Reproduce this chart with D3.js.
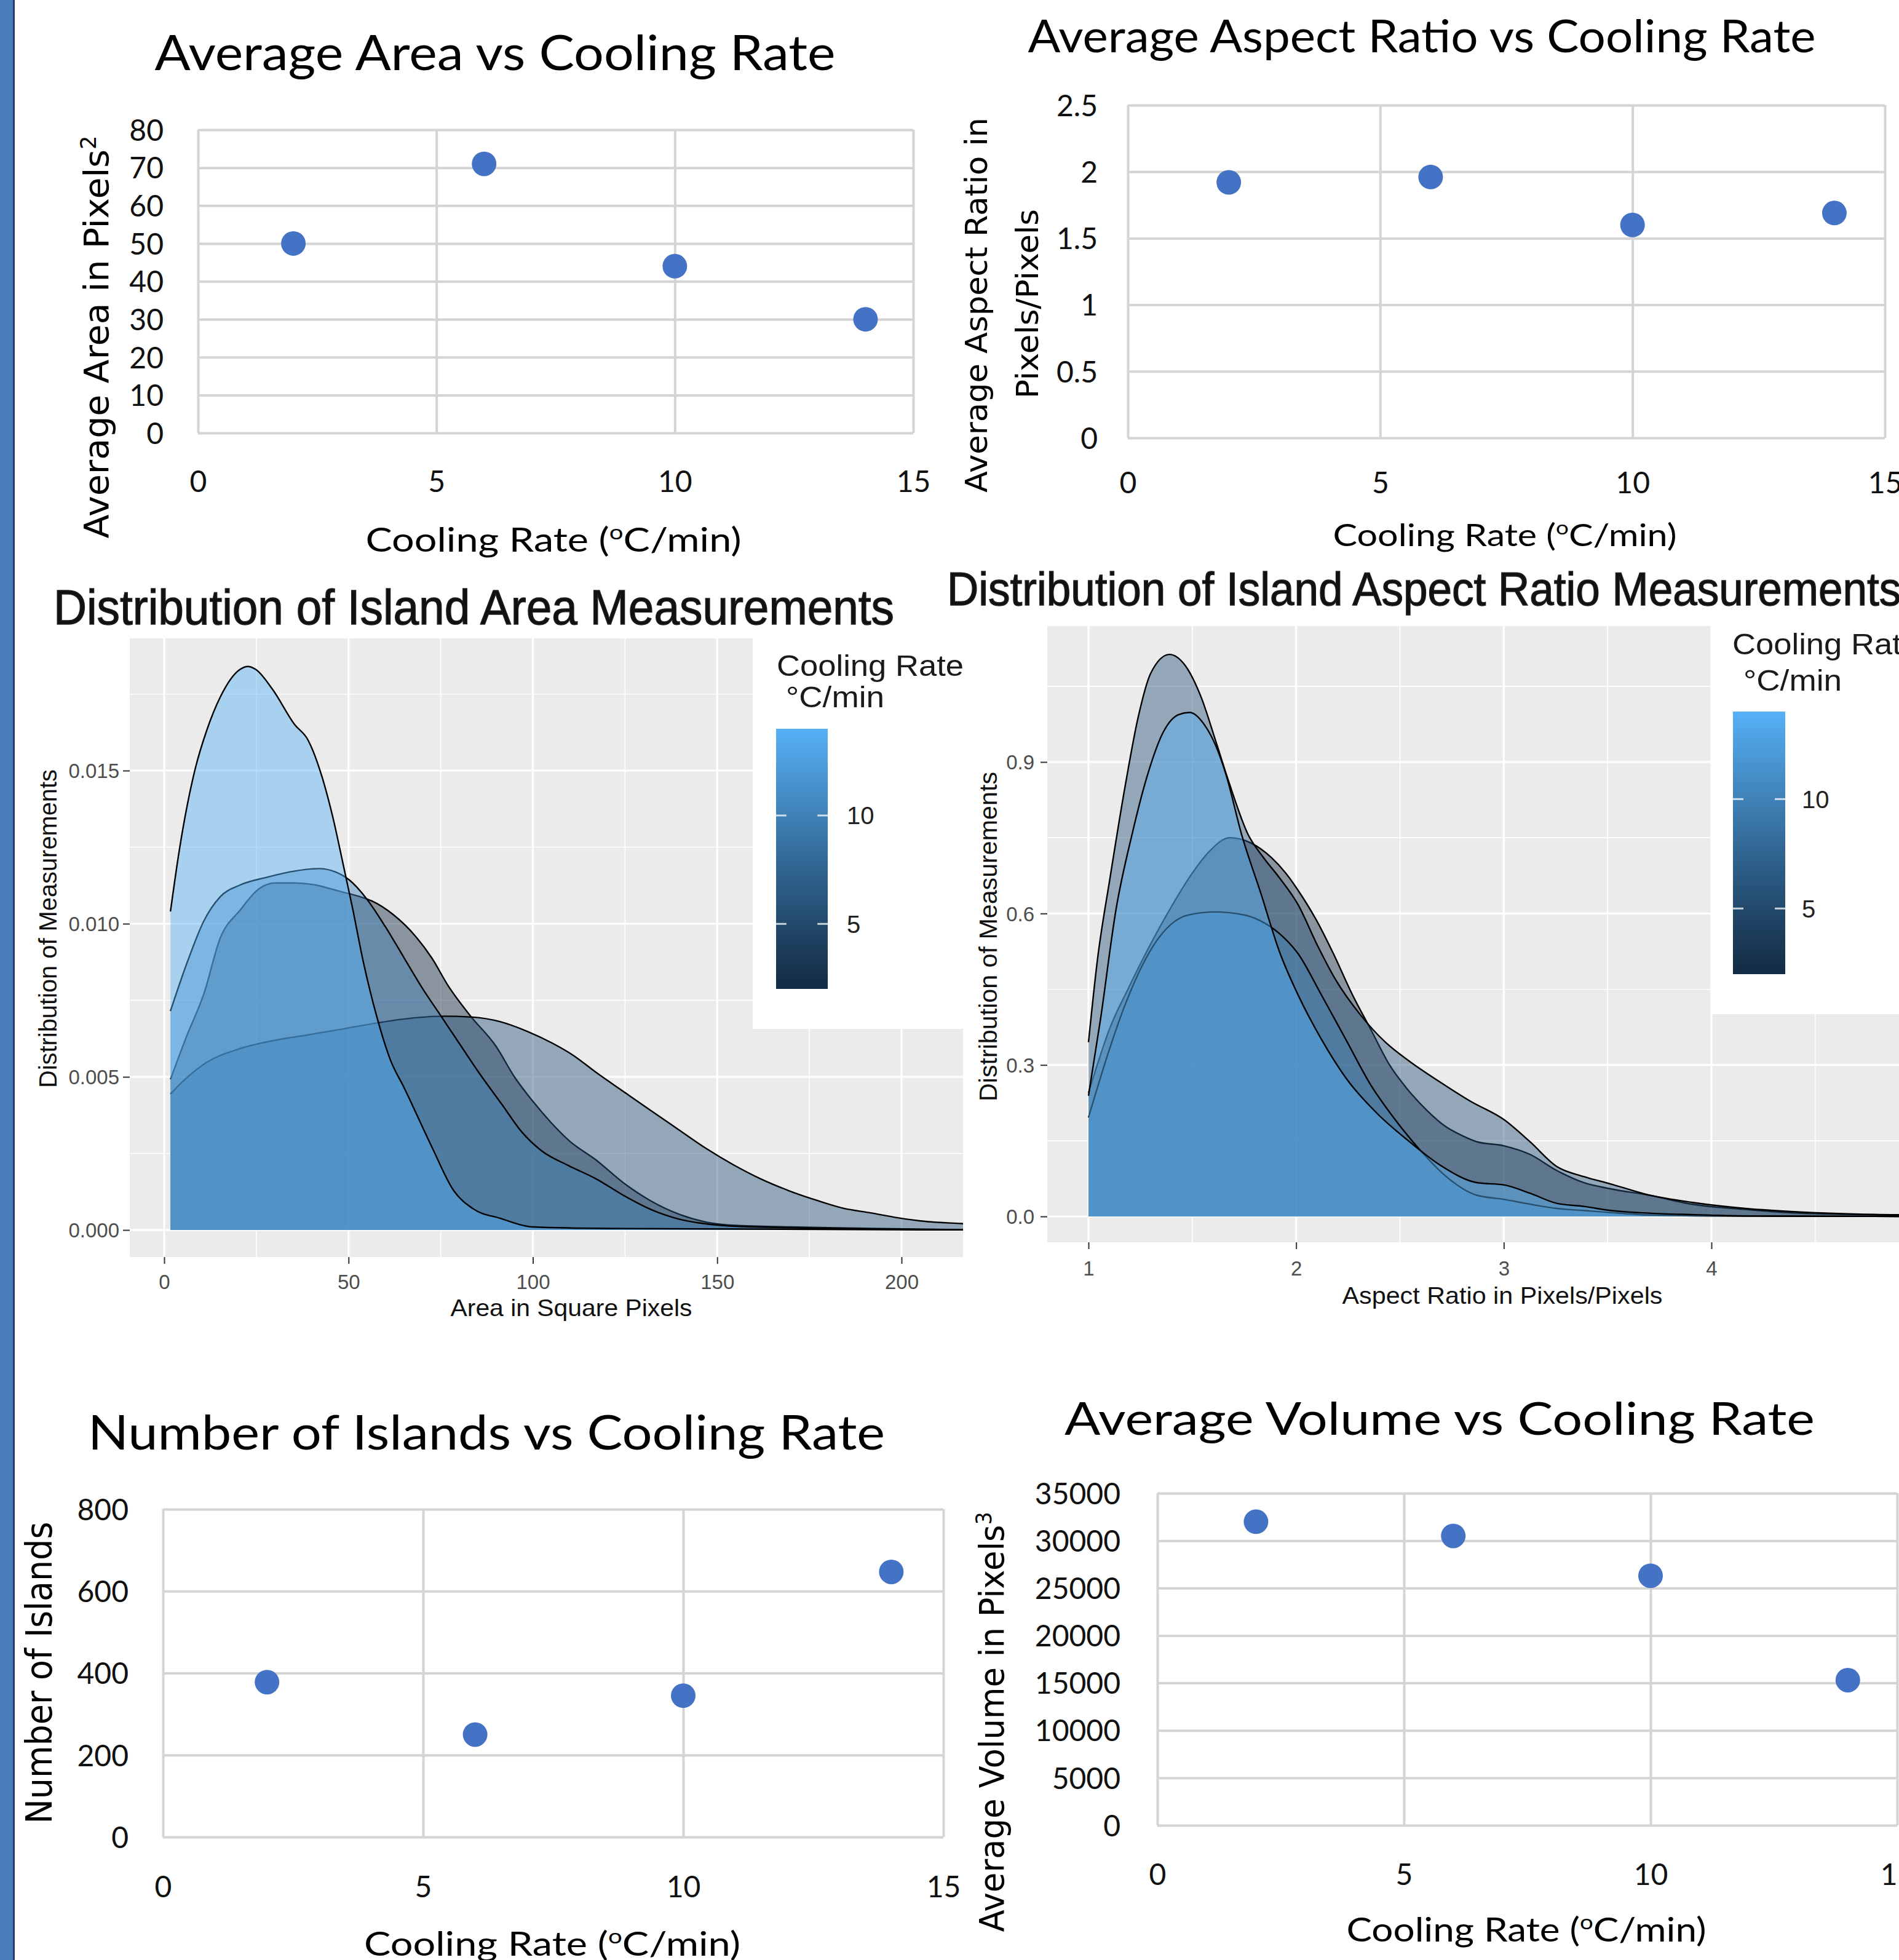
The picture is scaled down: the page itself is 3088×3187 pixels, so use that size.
<!DOCTYPE html>
<html>
<head>
<meta charset="utf-8">
<script src="https://cdn.jsdelivr.net/npm/d3@7"></script>
<style>
  body { margin: 0; background: #fff; }
</style>
</head>
<body>
<svg id="chart"></svg>
<script>
// ---- data ----
const coolingRates = [2, 6, 10, 14];
const avgArea = [50, 71, 44, 30];
const avgAspect = [1.92, 1.96, 1.60, 1.69];
const islandCount = [378, 250, 345, 647];
const avgVolume = [32000, 30500, 26300, 15300];

// tick labels
const coolingTicks = [0, 5, 10, 15];
const areaTicks = [0, 10, 20, 30, 40, 50, 60, 70, 80];
const aspectTicks = [0, 0.5, 1, 1.5, 2, 2.5];
const islandTicks = [0, 200, 400, 600, 800];
const volumeTicks = [0, 5000, 10000, 15000, 20000, 25000, 30000, 35000];
const areaDensTicks = [0, 0.005, 0.010, 0.015];
const areaXTicks = [0, 50, 100, 150, 200];
const arDensTicks = [0, 0.3, 0.6, 0.9];
const arXTicks = [1, 2, 3, 4, 5];
const legendTicks = [5, 10];

// density curves, [area, density], one per cooling rate
const areaDens2 = [[1.7,0.00492],[6,0.0063],[10.8,0.00773],[15.2,0.00953],[20.5,0.01043],[25.7,0.01114],[30.1,0.01133],[35.4,0.01133],[41.3,0.01126],[47.2,0.01107],[53.2,0.01088],[56.2,0.01075],[62.1,0.0103],[68.1,0.0096],[72.6,0.00888],[77,0.00798],[83,0.0070],[90,0.0060],[95,0.0050],[100,0.0042],[105,0.0035],[110,0.0029],[117,0.0023],[125,0.0015],[132,0.00095],[140,0.0005],[147,0.00026],[155,0.00015],[170,0.0001],[230,0]];
const areaDens6 = [[1.7,0.00444],[5.5,0.0049],[11.5,0.00547],[20.5,0.00592],[29.4,0.00618],[39,0.00637],[48.7,0.00657],[57.7,0.00676],[68.1,0.00693],[76.3,0.00698],[83.7,0.00695],[91.2,0.0068],[98.6,0.00648],[105.3,0.0061],[111,0.0057],[117.1,0.00515],[124.6,0.00452],[132,0.0039],[139.5,0.00328],[146.9,0.00267],[154.4,0.00213],[161.8,0.00167],[169.3,0.00129],[176.7,0.00098],[184.2,0.00071],[191.6,0.00056],[199,0.0004],[206.5,0.00028],[216.2,0.00021],[230,0.00012]];
const areaDens10 = [[1.7,0.00715],[6.3,0.00876],[10.8,0.0101],[15.2,0.01088],[20.5,0.01126],[27.9,0.01152],[35.4,0.01172],[42,0.0118],[46.5,0.01169],[50.2,0.01143],[55,0.0108],[60,0.0099],[65,0.0089],[70,0.0079],[75,0.0070],[80,0.0061],[85,0.0052],[91.6,0.0041],[97,0.0032],[102.2,0.0026],[109.7,0.0021],[117,0.00168],[124.6,0.00113],[132,0.00067],[139.5,0.00036],[147,0.0002],[160,0.0001],[230,0]];
const areaDens14 = [[1.7,0.0104],[4.1,0.0124],[6.3,0.0139],[8.5,0.0151],[11.5,0.0163],[15.2,0.0174],[20.5,0.0183],[22.7,0.0184],[24.9,0.0183],[29.4,0.01765],[35.4,0.0165],[39,0.0160],[42.8,0.0148],[45.7,0.0135],[48.7,0.01185],[51,0.01056],[54,0.00876],[57.7,0.00695],[61.4,0.00554],[65.1,0.00464],[72.6,0.00271],[78.5,0.00129],[83.7,0.0007],[91.2,0.00038],[100,0.0001],[120,0.00005],[230,0]];

// density curves, [aspect ratio, density], one per cooling rate
const arDens2 = [[1.0,0.245],[1.05,0.31],[1.1,0.37],[1.19,0.45],[1.3,0.54],[1.4,0.614],[1.5,0.68],[1.58,0.722],[1.68,0.75],[1.78,0.74],[1.88,0.711],[1.95,0.68],[2.03,0.633],[2.1,0.585],[2.18,0.52],[2.27,0.44],[2.36,0.37],[2.45,0.30],[2.54,0.25],[2.63,0.21],[2.72,0.178],[2.8,0.16],[2.87,0.148],[3.0,0.14],[3.126,0.123],[3.255,0.091],[3.385,0.067],[3.514,0.0548],[3.7,0.042],[3.905,0.0244],[4.165,0.0138],[4.424,0.0065],[5.0,0.002]];
const arDens6 = [[1.0,0.345],[1.043,0.508],[1.104,0.671],[1.179,0.858],[1.24,0.99],[1.30,1.076],[1.39,1.113],[1.466,1.091],[1.542,1.029],[1.617,0.936],[1.678,0.858],[1.768,0.757],[1.844,0.71],[1.919,0.671],[2.01,0.617],[2.1,0.539],[2.19,0.469],[2.31,0.399],[2.43,0.345],[2.55,0.306],[2.69,0.267],[2.84,0.228],[3.0,0.192],[3.126,0.148],[3.255,0.099],[3.385,0.079],[3.514,0.0645],[3.7,0.0424],[3.905,0.028],[4.165,0.0158],[4.424,0.0089],[4.684,0.0049],[5.0,0.003]];
const arDens10 = [[1.0,0.196],[1.1,0.33],[1.18,0.423],[1.33,0.547],[1.48,0.597],[1.61,0.603],[1.75,0.597],[1.83,0.585],[1.92,0.56],[2.01,0.52],[2.12,0.44],[2.24,0.35],[2.36,0.26],[2.48,0.19],[2.6,0.13],[2.72,0.08],[2.87,0.042],[3.0,0.034],[3.126,0.0243],[3.255,0.0158],[3.385,0.0118],[3.514,0.0077],[3.7,0.003],[4.0,0.001],[5.0,0]];
const arDens14 = [[1.0,0.239],[1.058,0.391],[1.133,0.609],[1.21,0.757],[1.284,0.874],[1.36,0.959],[1.435,0.994],[1.488,0.998],[1.556,0.975],[1.625,0.92],[1.663,0.874],[1.737,0.757],[1.83,0.64],[1.92,0.524],[2.01,0.438],[2.12,0.352],[2.24,0.274],[2.39,0.204],[2.54,0.15],[2.7,0.1],[2.87,0.067],[3.0,0.0625],[3.126,0.046],[3.255,0.026],[3.385,0.02],[3.514,0.0118],[3.7,0.0065],[3.9,0.0037],[4.2,0.001],[5.0,0]];

// ---- setup ----
const width = 3088;
const height = 3187;

const excelFont = "Lato, 'Open Sans', sans-serif";
const wideFont = "'DejaVu Sans', Verdana, sans-serif";
const ggFont = "'Liberation Sans', Arial, sans-serif";
const gridGrey = "#d4d4d4";
const markerBlue = "#4472C4";

const svg = d3.select("#chart")
    .attr("width", width)
    .attr("height", height)
    .attr("viewBox", [0, 0, width, height]);
const defs = svg.append("defs");

svg.append("rect").attr("width", width).attr("height", height).attr("fill", "#fff");

// blue strip on the left edge
svg.append("rect").attr("x", 0).attr("y", 0).attr("width", 21).attr("height", height).attr("fill", "#4A7EBB");
svg.append("rect").attr("x", 21).attr("y", 0).attr("width", 3).attr("height", height).attr("fill", "#24406a");

// colour of a cooling rate, like ggplot's default continuous fill
const rateColor = r => d3.interpolateLab("#132B43", "#56B1F7")((r - 2) / 12);

// text helper; parts allow superscripts
function addText(parent, o) {
    const t = parent.append("text")
        .attr("transform", `translate(${o.x},${o.y})` + (o.rotate ? " rotate(-90)" : ""))
        .attr("text-anchor", o.anchor || "middle")
        .attr("font-family", o.family)
        .attr("font-size", o.size)
        .attr("fill", o.color || "#000");
    const parts = o.parts || [{ t: o.text }];
    parts.forEach(p => {
        const s = t.append("tspan").text(p.t);
        if (p.sup) s.attr("baseline-shift", "super").attr("font-size", "62%");
    });
    if (o.len) t.attr("textLength", o.len).attr("lengthAdjust", "spacingAndGlyphs");
    return t;
}

const coolingTitle = [{ t: "Cooling Rate (" }, { t: "o", sup: true }, { t: "C/min)" }];

// ---- Excel style scatter panels ----
function excelScatter(o) {
    const g = svg.append("g");
    const x = d3.scaleLinear().domain([0, 15]).range([o.left, o.right]);
    const y = d3.scaleLinear().domain([0, o.yMax]).range([o.bottom, o.top]);

    // gridlines
    g.append("g")
        .attr("transform", `translate(${o.left},0)`)
        .call(d3.axisLeft(y).tickValues(o.yTicks).tickSize(-(o.right - o.left)).tickFormat(""))
        .call(a => a.select(".domain").remove())
        .call(a => a.selectAll("line").attr("stroke", gridGrey).attr("stroke-width", 4));
    g.append("g")
        .attr("transform", `translate(0,${o.bottom})`)
        .call(d3.axisBottom(x).tickValues(coolingTicks).tickSize(-(o.bottom - o.top)).tickFormat(""))
        .call(a => a.select(".domain").remove())
        .call(a => a.selectAll("line").attr("stroke", gridGrey).attr("stroke-width", 4));

    // tick labels
    g.append("g")
        .attr("transform", `translate(${o.yLabelRight},0)`)
        .call(d3.axisLeft(y).tickValues(o.yTicks).tickSize(0).tickPadding(0).tickFormat(d => String(d)))
        .call(a => a.select(".domain").remove())
        .call(a => a.selectAll("text")
            .attr("font-family", excelFont).attr("font-size", 48).attr("fill", "#111").attr("dy", "0.36em"));
    g.append("g")
        .attr("transform", `translate(0,${o.xLabelY})`)
        .call(d3.axisBottom(x).tickValues(coolingTicks).tickSize(0).tickPadding(0).tickFormat(d => String(d)))
        .call(a => a.select(".domain").remove())
        .call(a => a.selectAll("text")
            .attr("font-family", excelFont).attr("font-size", 48).attr("fill", "#111").attr("y", 0).attr("dy", "0.36em"));

    // markers
    g.append("g")
        .selectAll("circle")
        .data(o.values)
        .join("circle")
        .attr("cx", (d, i) => x(coolingRates[i]))
        .attr("cy", d => y(d))
        .attr("r", 20)
        .attr("fill", markerBlue);

    // titles
    addText(g, { x: o.title.x, y: o.title.y, text: o.title.text, family: excelFont, size: o.title.size, len: o.title.len, color: "#000" });
    addText(g, { x: o.xTitle.x, y: o.xTitle.y, parts: coolingTitle, family: excelFont, size: o.xTitle.size, len: o.xTitle.len });
    o.yTitle.forEach(l => addText(g, { x: l.x, y: l.y, parts: l.parts, family: wideFont, size: l.size, len: l.len, rotate: true }));
}

excelScatter({
    left: 322, right: 1485, top: 211, bottom: 704,
    yMax: 80, yTicks: areaTicks, values: avgArea,
    yLabelRight: 266, xLabelY: 783,
    title: { text: "Average Area vs Cooling Rate", x: 805, y: 114, size: 80, len: 1107 },
    xTitle: { x: 900, y: 897, size: 54, len: 611 },
    yTitle: [{ x: 176, y: 548, size: 56, len: 655, parts: [{ t: "Average Area in Pixels" }, { t: "2", sup: true }] }]
});

excelScatter({
    left: 1834, right: 3065, top: 171, bottom: 712,
    yMax: 2.5, yTicks: aspectTicks, values: avgAspect,
    yLabelRight: 1785, xLabelY: 785,
    title: { text: "Average Aspect Ratio vs Cooling Rate", x: 2312, y: 85, size: 74, len: 1281 },
    xTitle: { x: 2447, y: 888, size: 50, len: 559 },
    yTitle: [
        { x: 1605, y: 496, size: 50, len: 610, parts: [{ t: "Average Aspect Ratio in" }] },
        { x: 1688, y: 494, size: 50, len: 308, parts: [{ t: "Pixels/Pixels" }] }
    ]
});

excelScatter({
    left: 265, right: 1534, top: 2454, bottom: 2987,
    yMax: 800, yTicks: islandTicks, values: islandCount,
    yLabelRight: 209, xLabelY: 3068,
    title: { text: "Number of Islands vs Cooling Rate", x: 791, y: 2357, size: 78, len: 1296 },
    xTitle: { x: 898, y: 3180, size: 54, len: 612 },
    yTitle: [{ x: 84, y: 2720, size: 58, len: 491, parts: [{ t: "Number of Islands" }] }]
});

excelScatter({
    left: 1882, right: 3085, top: 2428, bottom: 2968,
    yMax: 35000, yTicks: volumeTicks, values: avgVolume,
    yLabelRight: 1822, xLabelY: 3048,
    title: { text: "Average Volume vs Cooling Rate", x: 2341, y: 2333, size: 74, len: 1220 },
    xTitle: { x: 2482, y: 3157, size: 54, len: 585 },
    yTitle: [{ x: 1632, y: 2800, size: 56, len: 683, parts: [{ t: "Average Volume in Pixels" }, { t: "3", sup: true }] }]
});

// ---- ggplot style density panels ----
function ggDensity(o) {
    const root = svg.append("g");
    if (o.clipRight) {
        defs.append("clipPath").attr("id", o.id + "-img")
            .append("rect").attr("x", 0).attr("y", 0).attr("width", o.clipRight).attr("height", height);
        root.attr("clip-path", `url(#${o.id}-img)`);
    }
    const P = o.panel;
    const x = d3.scaleLinear().domain(o.xDomain).range(o.xRange);
    const y = d3.scaleLinear().domain(o.yDomain).range(o.yRange);

    defs.append("clipPath").attr("id", o.id + "-panel")
        .append("rect").attr("x", P.x0).attr("y", P.y0).attr("width", P.x1 - P.x0).attr("height", P.y1 - P.y0);

    root.append("rect")
        .attr("x", P.x0).attr("y", P.y0).attr("width", P.x1 - P.x0).attr("height", P.y1 - P.y0)
        .attr("fill", "#EBEBEB");

    const grid = root.append("g").attr("clip-path", `url(#${o.id}-panel)`);
    const gridLines = (vals, w) => {
        grid.append("g").selectAll("line").data(vals.x).join("line")
            .attr("x1", d => x(d)).attr("x2", d => x(d)).attr("y1", P.y0).attr("y2", P.y1)
            .attr("stroke", "#fff").attr("stroke-width", w);
        grid.append("g").selectAll("line").data(vals.y).join("line")
            .attr("x1", P.x0).attr("x2", P.x1).attr("y1", d => y(d)).attr("y2", d => y(d))
            .attr("stroke", "#fff").attr("stroke-width", w);
    };
    gridLines({ x: o.xMinor, y: o.yMinor }, 1.6);
    gridLines({ x: o.xTicks, y: o.yTicks }, 3.2);

    const area = d3.area()
        .x(d => x(d[0])).y0(y(0)).y1(d => y(d[1]))
        .curve(d3.curveMonotoneX);
    const line = d3.line()
        .x(d => x(d[0])).y(d => y(d[1]))
        .curve(d3.curveMonotoneX);

    o.curves.forEach((c, i) => {
        grid.append("path").datum(c).attr("d", area)
            .attr("fill", rateColor(coolingRates[i])).attr("fill-opacity", 0.45);
        grid.append("path").datum(c).attr("d", line)
            .attr("fill", "none").attr("stroke", "#000").attr("stroke-width", 2.4);
    });

    // axes
    root.append("g")
        .attr("transform", `translate(${P.x0},0)`)
        .call(d3.axisLeft(y).tickValues(o.yTicks).tickSize(11).tickPadding(o.yPad).tickFormat(o.yFormat))
        .call(a => a.select(".domain").remove())
        .call(a => a.selectAll("line").attr("stroke", "#333").attr("stroke-width", 2))
        .call(a => a.selectAll("text").attr("font-family", ggFont).attr("font-size", 33).attr("fill", "#4d4d4d").attr("dy", "0.36em"));
    root.append("g")
        .attr("transform", `translate(0,${P.y1})`)
        .call(d3.axisBottom(x).tickValues(o.xTicks).tickSize(11).tickFormat(d => String(d)))
        .call(a => a.select(".domain").remove())
        .call(a => a.selectAll("line").attr("stroke", "#333").attr("stroke-width", 2))
        .call(a => a.selectAll("text").attr("font-family", ggFont).attr("font-size", 33).attr("fill", "#4d4d4d")
            .attr("y", o.xLabelBase - P.y1).attr("dy", 0));

    addText(root, { x: o.xTitle.x, y: o.xTitle.y, text: o.xTitle.text, family: ggFont, size: 39, len: o.xTitle.len, color: "#111" });
    addText(root, { x: o.yTitle.x, y: o.yTitle.y, text: "Distribution of Measurements", family: ggFont, size: 40, len: o.yTitle.len, rotate: true, color: "#111" });

    // legend (inset colourbar)
    const L = o.legend;
    const lg = root.append("g");
    lg.append("rect").attr("x", L.box[0]).attr("y", L.box[1])
        .attr("width", L.box[2] - L.box[0]).attr("height", L.box[3] - L.box[1]).attr("fill", "#fff");
    addText(lg, { x: L.titleX, y: L.title1, text: "Cooling Rate", family: ggFont, size: 48, len: 304, anchor: "start", color: "#1a1a1a" });
    addText(lg, { x: L.title2X, y: L.title2, text: "°C/min", family: ggFont, size: 48, len: 160, anchor: "start", color: "#1a1a1a" });

    const gradId = o.id + "-grad";
    const grad = defs.append("linearGradient").attr("id", gradId)
        .attr("x1", 0).attr("y1", 1).attr("x2", 0).attr("y2", 0);
    d3.range(0, 1.0001, 0.1).forEach(t => {
        grad.append("stop").attr("offset", t).attr("stop-color", rateColor(2 + 12 * t));
    });
    const ly = d3.scaleLinear().domain([2, 14]).range([L.barBottom, L.barTop]);
    lg.append("rect").attr("x", L.barX).attr("y", L.barTop)
        .attr("width", L.barW).attr("height", L.barBottom - L.barTop).attr("fill", `url(#${gradId})`);
    const tickW = L.barW / 5;
    lg.append("g").selectAll("line").data(legendTicks.flatMap(v => [[v, L.barX], [v, L.barX + L.barW - tickW]])).join("line")
        .attr("x1", d => d[1]).attr("x2", d => d[1] + tickW)
        .attr("y1", d => ly(d[0])).attr("y2", d => ly(d[0]))
        .attr("stroke", "#fff").attr("stroke-opacity", 0.75).attr("stroke-width", 3);
    lg.append("g").selectAll("text").data(legendTicks).join("text")
        .attr("x", L.labelX).attr("y", d => ly(d)).attr("dy", "0.36em")
        .attr("font-family", ggFont).attr("font-size", 40).attr("fill", "#222")
        .text(d => d);

    // title (slightly heavy, like the soft-edged original)
    const t = addText(root, { x: o.title.x, y: o.title.y, text: o.title.text, family: ggFont, size: o.title.size, anchor: "start", color: "#111" });
    t.attr("stroke", "#222").attr("stroke-width", 1.4);
    return t;
}

const areaTitle = ggDensity({
    id: "areaDens", clipRight: 1566,
    panel: { x0: 211, x1: 1700, y0: 1038, y1: 2044 },
    xDomain: [0, 200], xRange: [267, 1466],
    yDomain: [0, 0.015], yRange: [2000, 1253],
    xTicks: areaXTicks, xMinor: [25, 75, 125, 175, 225],
    yTicks: areaDensTicks, yMinor: [0.0025, 0.0075, 0.0125, 0.0175],
    yFormat: d3.format(".3f"), yPad: 6, xLabelBase: 2096,
    curves: [areaDens2, areaDens6, areaDens10, areaDens14],
    xTitle: { text: "Area in Square Pixels", x: 929, y: 2140, len: 393 },
    yTitle: { x: 92, y: 1510, len: 518 },
    legend: { box: [1224, 1038, 1700, 1673], titleX: 1263, title1: 1099, title2X: 1278, title2: 1150,
              barX: 1262, barW: 84, barTop: 1185, barBottom: 1608, labelX: 1377 },
    title: { text: "Distribution of Island Area Measurements", x: 87, y: 1015, size: 80 }
});

const arTitle = ggDensity({
    id: "arDens", clipRight: null,
    panel: { x0: 1703, x1: 3200, y0: 1018, y1: 2020 },
    xDomain: [1, 4], xRange: [1770, 2783],
    yDomain: [0, 0.9], yRange: [1978, 1239],
    xTicks: arXTicks, xMinor: [1.5, 2.5, 3.5, 4.5],
    yTicks: arDensTicks, yMinor: [0.15, 0.45, 0.75, 1.05],
    yFormat: d3.format(".1f"), yPad: 10, xLabelBase: 2074,
    curves: [arDens2, arDens6, arDens10, arDens14],
    xTitle: { text: "Aspect Ratio in Pixels/Pixels", x: 2443, y: 2120, len: 521 },
    yTitle: { x: 1621, y: 1523, len: 536 },
    legend: { box: [2782, 1018, 3200, 1649], titleX: 2817, title1: 1064, title2X: 2835, title2: 1123,
              barX: 2818, barW: 85, barTop: 1157, barBottom: 1584, labelX: 2930 },
    title: { text: "Distribution of Island Aspect Ratio Measurements", x: 1540, y: 984, size: 76 }
});

// squeeze both density titles by the same amount so the first spans its measured width
const squeeze = 1367 / areaTitle.node().getComputedTextLength();
[areaTitle, arTitle].forEach(t => {
    const n = t.node().getComputedTextLength();
    t.attr("textLength", n * squeeze).attr("lengthAdjust", "spacingAndGlyphs");
});
</script>
</body>
</html>
